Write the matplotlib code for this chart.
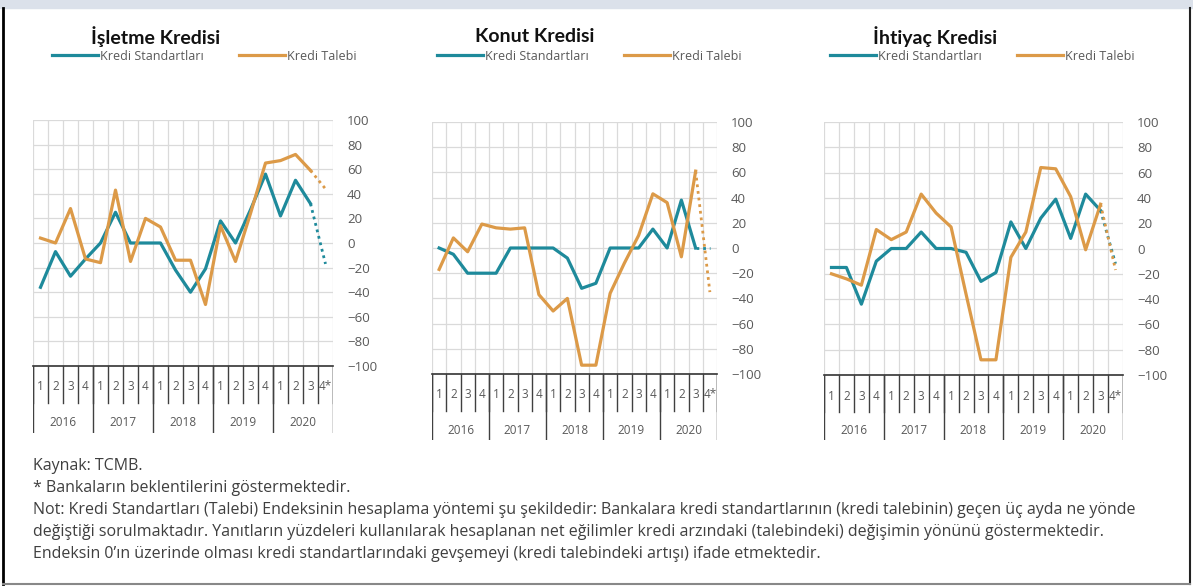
import matplotlib.pyplot as plt
import numpy as np
from matplotlib.lines import Line2D
from matplotlib.patches import Rectangle

W, H = 1193, 586
TEAL = '#1e8a9b'
ORANGE = '#dc9a48'
GRAY = '#595959'
TXT = '#3f3f3f'

plt.rcParams['font.family'] = ['Open Sans', 'DejaVu Sans']

quarters = ['1', '2', '3', '4'] * 5
quarters[-1] = '4*'
years = ['2016', '2017', '2018', '2019', '2020']
titles = ['İşletme Kredisi', 'Konut Kredisi', 'İhtiyaç Kredisi']
series_names = ['Kredi Standartları', 'Kredi Talebi']

# 2016Q1 .. 2020Q3 realised, then 2020Q4 expectation
isletme_std = [-36, -7, -27, -13, 0, 25, 0, 0, 0, -22, -40, -21, 18, 0, 27, 56, 22, 51, 32]
isletme_talep = [4, 0, 28, -13, -16, 43, -15, 20, 13, -14, -14, -50, 14, -15, 24, 65, 67, 72, 59]
isletme_beklenti = [-17, 44]

konut_std = [0, -5, -20, -20, -20, 0, 0, 0, 0, -8, -32, -28, 0, 0, 0, 15, 0, 38, 0]
konut_talep = [-17, 8, -3, 19, 16, 15, 16, -37, -50, -40, -93, -93, -36, -12, 10, 43, 36, -7, 61]
konut_beklenti = [0, -35]

ihtiyac_std = [-15, -15, -44, -10, 0, 0, 13, 0, 0, -3, -26, -19, 21, 0, 24, 39, 8, 43, 30]
ihtiyac_talep = [-20, -24, -29, 15, 7, 13, 43, 28, 17, -36, -88, -88, -7, 13, 64, 63, 41, -1, 35]
ihtiyac_beklenti = [-12, -17]

panels = [
    (isletme_std, isletme_talep, isletme_beklenti),
    (konut_std, konut_talep, konut_beklenti),
    (ihtiyac_std, ihtiyac_talep, ihtiyac_beklenti),
]

# pixel layout: plot left, top, right, bottom, table bottom, title centre x, legend left x
layout = [
    (33, 120, 333, 366, 433, 156, 52),
    (432, 122, 717, 374, 440, 535, 437),
    (824, 122, 1123, 375, 440, 935, 830),
]

fig = plt.figure(figsize=(W / 100, H / 100), dpi=100)


def px_axes(x0, y0, x1, y1):
    return fig.add_axes([x0 / W, 1 - y1 / H, (x1 - x0) / W, (y1 - y0) / H])


for (std, talep, bek), title, (x0, y0, x1, y1, yt, tx, lx) in zip(panels, titles, layout):
    ax = px_axes(x0, y0, x1, y1)
    x = np.arange(len(std)) + 0.5
    l1, = ax.plot(x, std, color=TEAL, lw=2.3, label=series_names[0])
    l2, = ax.plot(x, talep, color=ORANGE, lw=2.3, label=series_names[1])
    ax.plot([x[-1], x[-1] + 1], [std[-1], bek[0]], color=TEAL, lw=2, ls=(0, (1, 1.4)))
    ax.plot([x[-1], x[-1] + 1], [talep[-1], bek[1]], color=ORANGE, lw=2, ls=(0, (1, 1.4)))
    ax.set_xlim(0, 20)
    ax.set_ylim(-100, 100)
    ax.set_xticks(range(21))
    ax.set_xticklabels([])
    ax.set_yticks(range(-100, 101, 20))
    ax.yaxis.tick_right()
    ax.tick_params(axis='x', length=0)
    ax.tick_params(axis='y', length=0, pad=10, labelsize=9.5, labelcolor=GRAY)
    ax.grid(color='#dadada', lw=0.9)
    for s in ['top', 'left', 'right']:
        ax.spines[s].set_visible(False)
    ax.spines['bottom'].set_color('#333333')
    ax.spines['bottom'].set_linewidth(1.2)

    # multi-level category axis
    tab = px_axes(x0, y1, x1, yt)
    tab.set_xlim(0, 20)
    tab.set_ylim(yt - y1, 0)
    tab.axis('off')
    for i in range(21):
        tab.plot([i, i], [0, 37], color='#404040', lw=1)
    for i in range(0, 21, 4):
        tab.plot([i, i], [0, yt - y1], color='#404040', lw=1)
    for i, q in enumerate(quarters):
        tab.text(i + 0.5, 21, q, ha='center', va='center', fontsize=8.5, color=GRAY)
    for j, yr in enumerate(years):
        tab.text(4 * j + 2, 56, yr, ha='center', va='center', fontsize=8.5, color=GRAY)

    fig.text(tx / W, 1 - 37 / H, title, ha='center', va='center', fontsize=14,
             fontweight='bold', family=['Lato', 'DejaVu Sans'], color='#111111')
    ax.legend(handles=[l1, l2], loc='center left', bbox_to_anchor=(lx / W, 1 - 56 / H),
              bbox_transform=fig.transFigure, ncol=2, frameon=False, fontsize=9,
              handlelength=3.7, handletextpad=0.15, columnspacing=2.8, borderpad=0,
              borderaxespad=0, labelcolor=GRAY)

notes = [
    'Kaynak: TCMB.',
    '* Bankaların beklentilerini göstermektedir.',
    'Not: Kredi Standartları (Talebi) Endeksinin hesaplama yöntemi şu şekildedir: Bankalara kredi standartlarının (kredi talebinin) geçen üç ayda ne yönde',
    'değiştiği sorulmaktadır. Yanıtların yüzdeleri kullanılarak hesaplanan net eğilimler kredi arzındaki (talebindeki) değişimin yönünü göstermektedir.',
    'Endeksin 0’ın üzerinde olması kredi standartlarındaki gevşemeyi (kredi talebindeki artışı) ifade etmektedir.',
]
for k, line in enumerate(notes):
    fig.text(33 / W, 1 - (466 + 22 * k) / H, line, ha='left', va='center', fontsize=11.5, color=TXT)

# frame
fig.patches.append(Rectangle((0, 1 - 8 / H), 1, 8 / H, transform=fig.transFigure,
                             color='#dbe1ea', zorder=0))
fig.add_artist(Line2D([3 / W, 3 / W], [2 / H, 1 - 8 / H], color='black', lw=2))
fig.add_artist(Line2D([1190 / W, 1190 / W], [2 / H, 1 - 8 / H], color='#222222', lw=1.5))
fig.add_artist(Line2D([3 / W, 1190 / W], [2 / H, 2 / H], color='#888888', lw=1.5))

fig.savefig('out.png', dpi=100)
